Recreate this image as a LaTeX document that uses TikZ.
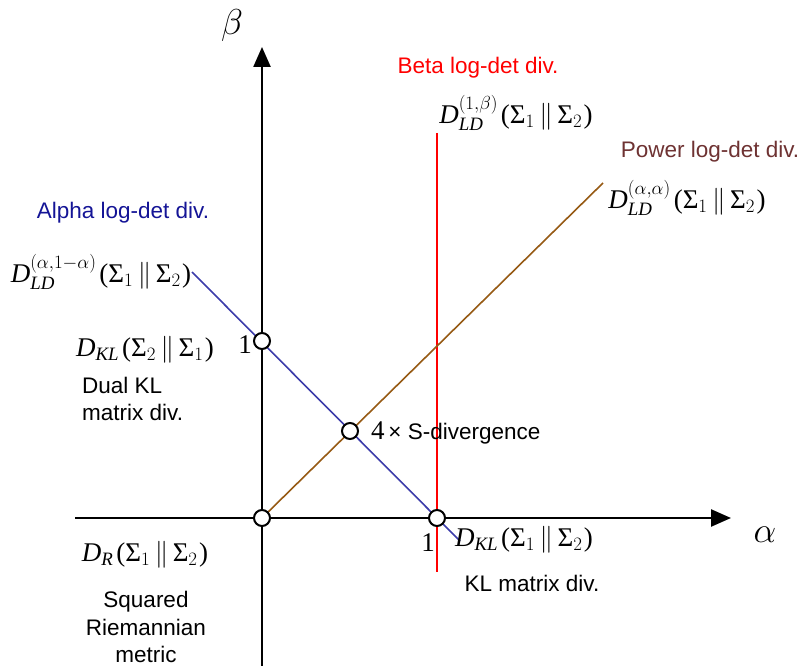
\RequirePackage{fix-cm}
\documentclass[tikz,border=0pt]{standalone}
\usepackage{amsmath}
\usepackage{fontspec}
\setmainfont{Liberation Serif}
\setsansfont{Liberation Sans}
\usetikzlibrary{arrows.meta}

\definecolor{alphaline}{RGB}{60,60,170}
\definecolor{alphatext}{RGB}{20,20,150}
\definecolor{powerline}{RGB}{150,90,20}
\definecolor{powertext}{RGB}{110,50,50}

\newcommand{\divsize}{\fontsize{27}{29}\selectfont}
\newcommand{\txtsize}{\sffamily\fontsize{22.5}{27.5}\selectfont}
\newcommand{\Dv}{\textit{D}}
\newcommand{\Sg}{\textrm{Σ}}
\newcommand{\pr}[2]{\mkern2mu\textrm{(}\Sg_{#1}\,\|\,\Sg_{#2}\mkern1mu\textrm{)}}

\begin{document}
\begin{tikzpicture}[x=1pt, y=-1pt,
  axis/.style={line width=2.4pt, -{Triangle[length=20pt, width=17pt]}},
  dot/.style={circle, draw, fill=white, line width=2pt, minimum size=16pt, inner sep=0pt},
  lbl/.style={font=\txtsize, align=center, inner sep=1pt},
  divl/.style={font=\divsize, inner sep=1pt},
  axl/.style={font=\fontsize{36}{38}\selectfont, inner sep=1pt}
]
\useasboundingbox (0,0) rectangle (807,666);
% axes
\coordinate (xs) at (75,518);
\coordinate (xe) at (731,518);
\coordinate (ys) at (262,666);
\coordinate (ye) at (262,47);
\draw[axis] (xs) -- (xe);
\draw[axis] (ys) -- (ye);
\node[axl] (alab) at (765,535) {$\alpha$};
\node[axl] (blab) at (232,26) {$\beta$};

% divergence families
\coordinate (btop) at (437,133);
\coordinate (bbot) at (437,572);
\coordinate (pbeg) at (262,518);
\coordinate (pend) at (603,183);
\coordinate (abeg) at (192,272);
\coordinate (aend) at (460,541);
\draw[red, line width=1.6pt] (btop) -- (bbot);
\draw[powerline, line width=1.6pt] (pbeg) -- (pend);
\draw[alphaline, line width=1.6pt] (abeg) -- (aend);

% special points
\node[dot] (orig) at (262,518) {};
\node[dot] (dual) at (262,341) {};
\node[dot] (kl) at (437,518) {};
\node[dot] (sdiv) at (350,431) {};

% labels
\node[lbl, text=red] (betat) at (478,68) {Beta log-det div.};
\node[divl] (betad) at (516,113) {$\Dv_{\textit{LD}}^{(1,\beta)}\pr12$};
\node[lbl, text=powertext] (powt) at (710,152) {Power log-det div.};
\node[divl] (powd) at (687,198) {$\Dv_{\textit{LD}}^{(\alpha,\alpha)}\pr12$};
\node[lbl, text=alphatext] (alpt) at (123,213) {Alpha log-det div.};
\node[divl] (alpd) at (101,272) {$\Dv_{\textit{LD}}^{(\alpha,1-\alpha)}\pr12$};
\node[divl] (duald) at (145,350) {$\Dv_{\textit{KL}}\pr21$};
\node[divl, anchor=east] (one1) at (253,345) {1};
\node[lbl, align=left, anchor=west] (dualt) at (81,399) {Dual KL\\matrix div.};
\node[lbl, anchor=west] (sdivt) at (370,433) {{\rmfamily\divsize 4}\,× S-divergence};
\node[divl] (one2) at (428,543) {1};
\node[divl] (kld) at (524,540) {$\Dv_{\textit{KL}}\pr12$};
\node[lbl] (klt) at (532,583) {KL matrix div.};
\node[divl] (rd) at (145,555) {$\Dv_{\textit{R}}\pr12$};
\node[lbl] (rt) at (146,627) {Squared\\Riemannian\\metric};
\end{tikzpicture}
\end{document}
